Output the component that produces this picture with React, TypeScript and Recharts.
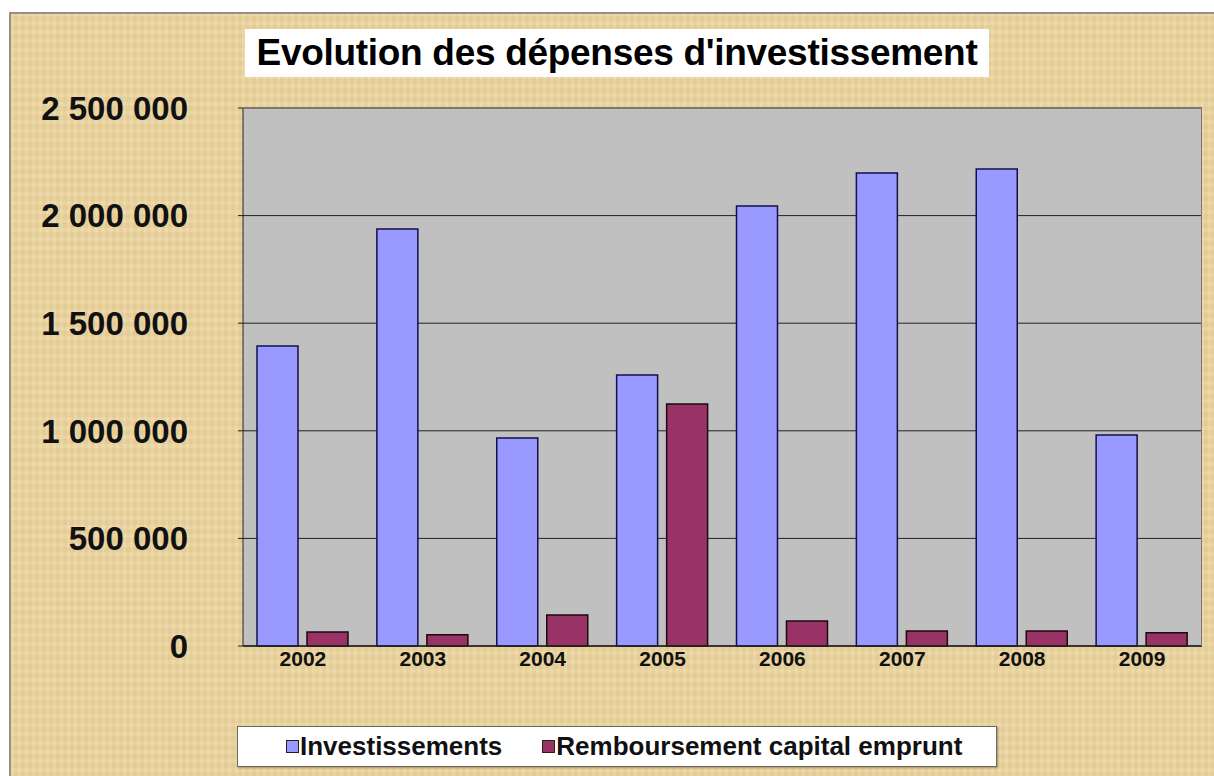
import React from 'react';
import { BarChart, Bar, XAxis, YAxis, CartesianGrid, Legend } from 'recharts';

const years = ['2002', '2003', '2004', '2005', '2006', '2007', '2008', '2009'];
const investissements = [1394000, 1938000, 967000, 1259000, 2045000, 2198000, 2217000, 980000];
const remboursement = [65000, 52000, 144000, 1125000, 116000, 70000, 70000, 62000];
const yTicks = [0, 500000, 1000000, 1500000, 2000000, 2500000];

const data = years.map((y, i) => ({
  year: y,
  inv: investissements[i],
  remb: remboursement[i],
}));

const fmt = (v: number) =>
  String(v).replace(/\B(?=(\d{3})+(?!\d))/g, ' ');

const FONT = 'Arial, "Liberation Sans", Helvetica, sans-serif';

const LegendBox = () => (
  <div
    style={{
      position: 'absolute',
      left: 237,
      top: 726,
      width: 760,
      height: 41,
      boxSizing: 'border-box',
      background: '#ffffff',
      border: '1px solid #6f6a5c',
      boxShadow: '1px 1px 2px rgba(90,80,50,0.5)',
      display: 'flex',
      alignItems: 'center',
      fontFamily: FONT,
      fontWeight: 'bold',
      fontSize: 26,
      color: '#111',
      whiteSpace: 'nowrap',
    }}
  >
    <span style={{ display: 'inline-block', width: 11, height: 11, background: '#9999FF', border: '1.5px solid #222', marginLeft: 48, marginRight: 1 }} />
    <span>Investissements</span>
    <span style={{ display: 'inline-block', width: 11, height: 11, background: '#993366', border: '1.5px solid #222', marginLeft: 40, marginRight: 1 }} />
    <span>Remboursement capital emprunt</span>
  </div>
);

export default function App() {
  return (
    <div style={{ position: 'absolute', left: 0, top: 0, width: 1214, height: 776, background: '#ffffff', overflow: 'hidden' }}>
      <div
        style={{
          position: 'absolute',
          left: 9,
          top: 12,
          width: 1214,
          height: 776,
          borderTop: '2px solid #9a8f86',
          borderLeft: '2px solid #9a8f86',
          background:
            'repeating-linear-gradient(90deg, rgba(255,255,255,0.06) 0px, rgba(255,255,255,0.06) 3px, rgba(160,120,50,0.05) 3px, rgba(160,120,50,0.05) 7px), repeating-linear-gradient(0deg, rgba(255,255,255,0.05) 0px, rgba(255,255,255,0.05) 4px, rgba(160,120,50,0.05) 4px, rgba(160,120,50,0.05) 9px), #EBD5A0',
        }}
      />
      <div
        style={{
          position: 'absolute',
          left: 245,
          top: 29,
          width: 744,
          height: 48,
          background: '#ffffff',
          fontFamily: FONT,
          fontWeight: 'bold',
          fontSize: 37,
          color: '#000',
          display: 'flex',
          alignItems: 'center',
          justifyContent: 'center',
          whiteSpace: 'nowrap',
          letterSpacing: -0.3,
        }}
      >
        Evolution des dépenses d'investissement
      </div>
      <div style={{ position: 'absolute', left: 0, top: 0 }}>
        <BarChart
          width={1214}
          height={776}
          data={data}
          margin={{ top: 108, right: 12, bottom: 0, left: 0 }}
          barGap={9}
          barSize={41}
        >
          <CartesianGrid
            horizontal={true}
            vertical={false}
            fill="#C0C0C0"
            stroke="#222"
            strokeWidth={1}
            fillOpacity={1}
          />
          <XAxis
            dataKey="year"
            height={130}
            tickSize={0}
            tickMargin={5}
            axisLine={{ stroke: '#222', strokeWidth: 1.5 }}
            tick={{ fill: '#111', fontFamily: FONT, fontWeight: 'bold', fontSize: 21 }}
          />
          <YAxis
            width={243}
            domain={[0, 2500000]}
            ticks={yTicks}
            interval={0}
            tickFormatter={fmt}
            tickSize={5}
            tickMargin={50}
            axisLine={{ stroke: '#222', strokeWidth: 1 }}
            tickLine={{ stroke: '#222' }}
            tick={{ fill: '#111', fontFamily: FONT, fontWeight: 'bold', fontSize: 33 }}
          />
          <Legend content={() => null} />
          <Bar dataKey="inv" name="Investissements" fill="#9999FF" stroke="#10104a" strokeWidth={1.5} isAnimationActive={false} />
          <Bar dataKey="remb" name="Remboursement capital emprunt" fill="#993366" stroke="#1a0a10" strokeWidth={1.5} isAnimationActive={false} />
        </BarChart>
      </div>
      <div
        style={{
          position: 'absolute',
          left: 243,
          top: 108,
          width: 959,
          height: 538,
          boxSizing: 'border-box',
          borderTop: '1px solid #777',
          borderRight: '1px solid #777',
          pointerEvents: 'none',
        }}
      />
      <LegendBox />
    </div>
  );
}
